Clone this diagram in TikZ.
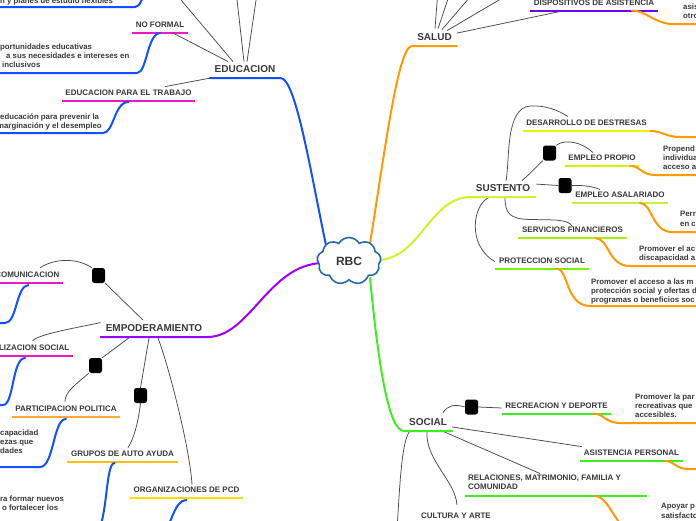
\documentclass[tikz,border=0pt]{standalone}
\usepackage{fontspec}
\setmainfont{Liberation Sans}
\usetikzlibrary{shapes.symbols,calc}
\definecolor{txt}{HTML}{383838}
\definecolor{bblue}{HTML}{1450FF}
\definecolor{borange}{HTML}{FF9A00}
\definecolor{blime}{HTML}{CCF52A}
\definecolor{bgreen}{HTML}{3CF01E}
\definecolor{bpurple}{HTML}{9A00FF}
\definecolor{bmag}{HTML}{EE18C8}
\definecolor{bviolet}{HTML}{6A00FF}
\definecolor{yla}{HTML}{E8F500}
\definecolor{ylb}{HTML}{D8F200}
\definecolor{ylc}{HTML}{C8F040}
\definecolor{yld}{HTML}{A4F000}
\definecolor{yle}{HTML}{78F000}
\definecolor{ora}{HTML}{FFAA33}
\definecolor{orb}{HTML}{FFBE10}
\definecolor{orc}{HTML}{FFDC00}
\definecolor{cloudc}{HTML}{2A68AA}
\definecolor{conn}{HTML}{4A4A4A}
\begin{document}
\begin{tikzpicture}[x=1pt,y=-1pt,
  topic/.style={font=\fontsize{10}{12}\selectfont\bfseries,text=txt,inner xsep=5pt,inner ysep=0pt,text height=7.5pt,text depth=5pt,anchor=south},
  sub/.style={font=\fontsize{8}{9.5}\selectfont\bfseries,text=txt,inner xsep=3.5pt,inner ysep=0pt,text height=6pt,text depth=5pt,anchor=south},
  desc/.style={font=\fontsize{7.8}{9.2}\selectfont\bfseries,text=txt,align=left,inner sep=0pt,anchor=north west},
  branch/.style={line width=2pt,line cap=round},
  uline/.style={line width=2pt},
  link/.style={draw=conn,line width=0.75pt},
  box/.style={fill=black,rounded corners=2.5pt,minimum width=13pt,minimum height=15pt,inner sep=0pt},
]
\useasboundingbox (0,0) rectangle (696,520);
\clip (0,0) rectangle (696,520);

% ---------- main topics
\node[topic] (edu) at (245,78) {EDUCACION};
\node[topic] (sal) at (434.5,46) {SALUD};
\node[topic] (sus) at (503,197) {SUSTENTO};
\node[topic] (soc) at (428,431) {SOCIAL};
\node[topic] (emp) at (154,337) {EMPODERAMIENTO};

% ---------- sub topics
\node[sub] (nof) at (160,33) {NO FORMAL};
\node[sub] (edt) at (128.5,101) {EDUCACION PARA EL TRABAJO};
\node[sub,anchor=south east] (com) at (63,283) {COMUNICACION};
\node[sub,anchor=south east] (mov) at (73,356) {LIZACION SOCIAL};
\node[sub] (par) at (66,417) {PARTICIPACION POLITICA};
\node[sub] (gru) at (122.5,462) {GRUPOS DE AUTO AYUDA};
\node[sub] (org) at (186.5,498) {ORGANIZACIONES DE PCD};
\node[sub] (dis) at (594,10.5) {DISPOSITIVOS DE ASISTENCIA};
\node[sub] (des) at (586.5,131) {DESARROLLO DE DESTRESAS};
\node[sub] (epr) at (602,166) {EMPLEO PROPIO};
\node[sub] (eas) at (620,203) {EMPLEO ASALARIADO};
\node[sub] (ser) at (572.5,238) {SERVICIOS FINANCIEROS};
\node[sub] (pro) at (542,268.5) {PROTECCION SOCIAL};
\node[sub] (rec) at (556.5,413.5) {RECREACION Y DEPORTE};
\node[sub] (asi) at (631.5,461) {ASISTENCIA PERSONAL};
\node[sub,anchor=base] (cul) at (456,518) {CULTURA Y ARTE};
\node[font=\fontsize{8}{9}\selectfont\bfseries,text=txt,align=left,inner sep=0pt,anchor=north west] (rel) at (468,475) {RELACIONES, MATRIMONIO, FAMILIA Y\\COMUNIDAD};
\coordinate (relA) at (465,496);
\coordinate (relB) at (647,496);

% ---------- descriptions
\node[desc] (d1) at (0,-2.6) {n y planes de estudio flexibles};
\node[desc] (d2) at (0,43.5) {portunidades educativas\\\hspace*{6pt}a sus necesidades e intereses en\\\hspace*{2pt}inclusivos};
\node[desc] (d3) at (-3,113.5) {\hspace*{3pt}educación para prevenir la\\marginación y el desempleo};
\node[desc] (d4) at (0,429.5) {capacidad\\ezas que\\dades};
\node[desc] (d5) at (0,495.5) {ra formar nuevos\\\hspace*{2pt}o fortalecer los};
\node[desc] (d6) at (683,3.4) {asis\\otro};
\node[desc] (d7) at (663,145.4) {Propend\\individua\\acceso a};
\node[desc] (d8) at (680,211.4) {Perr\\en c};
\node[desc] (d9) at (639,245.4) {Promover el ac\\discapacidad a};
\node[desc] (d10) at (591,278.4) {Promover el acceso a las m\\protección social y ofertas d\\programas o beneficios soc};
\node[desc] (d11) at (635,393.4) {Promover la par\\recreativas que\\accesibles.};
\node[desc] (d12) at (661,503.4) {Apoyar p\\satisfacto};

% ---------- black markers
\node[box] (q1) at (98.5,275.5) {};
\node[box] (q2) at (95.5,365.5) {};
\node[box] (q3) at (140.5,395.5) {};
\node[box] (q4) at (549.5,153) {};
\node[box] (q5) at (565,185.5) {};
\node[box] (q6) at (471.5,407) {};

% ---------- off-canvas ends
\coordinate (eA) at (172.6,-10);
\coordinate (eB) at (235.9,-10);
\coordinate (eC) at (257.5,-10);
\coordinate (sA) at (438,-10);
\coordinate (sB) at (451,-10);
\coordinate (sC) at (476,-10);
\coordinate (sD) at (516,-10);
\coordinate (xS) at (397,530);

% ---------- underlines
\draw[uline,bmag] (nof.south west) -- (nof.south east);
\draw[uline,bmag] (edt.south west) -- (edt.south east);
\draw[uline,bmag] (com.south west) -- (com.south east);
\draw[uline,bmag] (mov.south west) -- (mov.south east);
\draw[uline,ora] (par.south west) -- (par.south east);
\draw[uline,orb] (gru.south west) -- (gru.south east);
\draw[uline,orc] (org.south west) -- (org.south east);
\draw[uline,bviolet] (dis.south west) -- (dis.south east);
\draw[uline,yla] (des.south west) -- (des.south east);
\draw[uline,ylb] (epr.south west) -- (epr.south east);
\draw[uline,ylc] (eas.south west) -- (eas.south east);
\draw[uline,yld] (ser.south west) -- (ser.south east);
\draw[uline,yle] (pro.south west) -- (pro.south east);
\draw[uline,bgreen] (rec.south west) -- (rec.south east);
\draw[uline,bgreen] (asi.south west) -- (asi.south east);
\draw[uline,bgreen] (relA) -- (relB);

% ---------- description curves (left, blue)
\draw[branch,bblue] (-5,7) -- (135,7) .. controls (141,7) and (141,-3) .. (148,-10);
\draw[branch,bblue] (nof.south) .. controls (147,34) and (147,73) .. (137,73) -- (-5,73);
\draw[branch,bblue] ($(edt.south)+(0,1)$) .. controls (114,102) and (114,133) .. (103,133) -- (-5,133);
\draw[branch,bblue] ($(com.south)+(1,2)$) .. controls (16,286) and (17,323) .. (5,323) -- (-5,323);
\draw[branch,bblue] ($(mov.south)+(-9,2)$) .. controls (12,358) and (14,405) .. (3,405) -- (-5,405);
\draw[branch,bblue] ($(par.south)+(0,2)$) .. controls (53,419) and (54,467) .. (40,467) -- (-5,467);
\draw[branch,bblue] ($(gru.south)+(-8,1)$) .. controls (105,463) and (108,525) .. (95,535);
\draw[branch,bblue] ($(org.south)+(0,2)$) .. controls (174,500) and (172,525) .. (160,540);

% ---------- description curves (right, orange)
\draw[branch,borange] ($(dis.south)+(38,0)$) .. controls (646,10.5) and (655,24) .. (673,24) -- (700,24);
\draw[branch,borange] (des.south east) .. controls (662,131) and (666,137) .. (680,137) -- (700,137);
\draw[branch,borange] ($(epr.south)+(28,0)$) .. controls (641,166) and (641,175) .. (655,175) -- (700,175);
\draw[branch,borange] ($(eas.south)+(20,0)$) .. controls (652,203) and (652,232) .. (672,232) -- (700,232);
\draw[branch,borange] ($(ser.south)+(22.5,0)$) .. controls (609,238) and (608,266) .. (630,266) -- (700,266);
\draw[branch,borange] ($(pro.south)+(15,0)$) .. controls (568,269) and (566,306) .. (590,306) -- (700,306);
\draw[branch,borange] ($(rec.south)+(36.5,0)$) .. controls (604,413.5) and (605,423) .. (620,423) -- (700,423);
\draw[branch,borange] ($(asi.south)+(33.5,0)$) .. controls (674,461) and (676,469) .. (688,469) -- (700,469);
\draw[branch,borange] ($(relA)+(130,0)$) .. controls (606,496) and (612,515) .. (625,530);

% ---------- thin connectors: EDUCACION
\draw[link] ($(edu.north)+(-17,-3.5)$) -- ($(nof.south)+(13,0)$);
\draw[link] ($(edu.north)+(-12,-3.5)$) -- (eA);
\draw[link] ($(edu.north)+(-1,-3.5)$) -- (eB);
\draw[link] ($(edu.north)+(2,-3.5)$) -- (eC);
\draw[link] ($(edu.south west)+(1,0)$) -- ($(edt.north)+(36.5,-3)$);

% EMPODERAMIENTO
\draw[link] ($(emp.north)+(-11,-4)$) -- (q1.south east);
\draw[link] (q1.north west) .. controls (78,258) and (55,258) .. ($(com.north)+(13,-4)$);
\draw[link] ($(emp.north west)+(0,-1.5)$) .. controls (70,329) and (40,334) .. ($(mov.north)+(-1.5,-4)$);
\draw[link] ($(emp.south)+(-24,0)$) -- (q2.north east);
\draw[link] (q2.south west) .. controls (75,385) and (65,392) .. ($(par.north)+(-1,-4)$);
\draw[link] ($(emp.south)+(-5,1)$) -- (q3.north);
\draw[link] (q3.south) .. controls (138,425) and (133,440) .. ($(gru.north)+(5.5,-3)$);
\draw[link] ($(emp.south)+(4,1)$) .. controls (170,370) and (190,450) .. ($(org.north)+(5.5,-2)$);

% SALUD
\draw[link] ($(sal.north)+(0.5,-4.5)$) -- (sA);
\draw[link] ($(sal.north)+(3.5,-4.5)$) -- (sB);
\draw[link] ($(sal.north)+(7.5,-3.5)$) -- (sC);
\draw[link] ($(sal.north)+(12.5,-2.5)$) -- (sD);
\draw[link] (sal.north east) -- ($(dis.south)+(-34,1)$);

% SUSTENTO
\draw[link] ($(sus.north)+(3,-3.5)$) .. controls (510,160) and (505,108) .. (530,106) .. controls (545,105) and (558,110) .. ($(des.north)+(-18.5,-3)$);
\draw[link] ($(sus.north)+(19,-3.5)$) .. controls (532,172) and (538,165) .. (q4.south west);
\draw[link] (q4.north east) .. controls (566,138) and (583,143) .. ($(epr.north)+(-9,-2)$);
\draw[link] ($(sus.north east)+(1,0)$) -- (q5.west);
\draw[link] (q5.east) .. controls (585,185) and (595,187) .. ($(eas.north)+(-20,-2)$);
\draw[link] ($(sus.south)+(2,0)$) .. controls (505,214) and (510,219) .. (530,219.5) .. controls (555,220) and (568,219) .. (ser.north);
\draw[link] ($(sus.south)+(-13,0)$) .. controls (473,203) and (466,245) .. ($(pro.north)+(-47,4.5)$);

% SOCIAL
\draw[link] ($(soc.north)+(15,-5.5)$) .. controls (448,405) and (455,404) .. (q6.west);
\draw[link] (q6.east) -- ($(rec.south west)+(0,-5.5)$);
\draw[link] ($(soc.south east)+(0,-4)$) -- ($(asi.north west)+(1.5,-3)$);
\draw[link] ($(soc.south)+(12,-1)$) -- ($(rel.north west)+(72,-1.5)$);
\draw[link] ($(soc.south)+(-1,0)$) .. controls (425,460) and (455,480) .. ($(cul.north)+(1,-7)$);
\draw[link] ($(soc.south west)+(6,0)$) .. controls (402,440) and (400,480) .. (xS);

% ---------- main branches
\coordinate (inEdu) at (327,250);
\coordinate (inSal) at (369,250);
\coordinate (inSus) at (378,260);
\coordinate (inSoc) at (370,278);
\coordinate (inEmp) at (322,263);
\draw[branch,bblue] (edu.south west) -- (edu.south east) .. controls (296,78) and (311,175) .. (inEdu);
\draw[branch,borange] (sal.south east) -- (sal.south west) .. controls (398,46) and (385,150) .. (inSal);
\draw[branch,blime] (sus.south east) -- (sus.south west) .. controls (430,197) and (420,259) .. (inSus);
\draw[branch,bgreen] (soc.south east) -- (soc.south west) .. controls (388,431) and (378,360) .. (inSoc);
\draw[branch,bpurple] (emp.south west) -- (emp.south east) .. controls (250,337) and (268,265) .. (inEmp);

% ---------- centre
\node[cloud,cloud puffs=9,cloud puff arc=120,aspect=1.35,draw=cloudc,fill=white,line width=1.6pt,
      minimum width=64pt,minimum height=47pt,inner sep=0pt,
      font=\fontsize{12}{14}\selectfont\bfseries,text=txt] (rbc) at (349,261) {RBC};
\end{tikzpicture}
\end{document}
